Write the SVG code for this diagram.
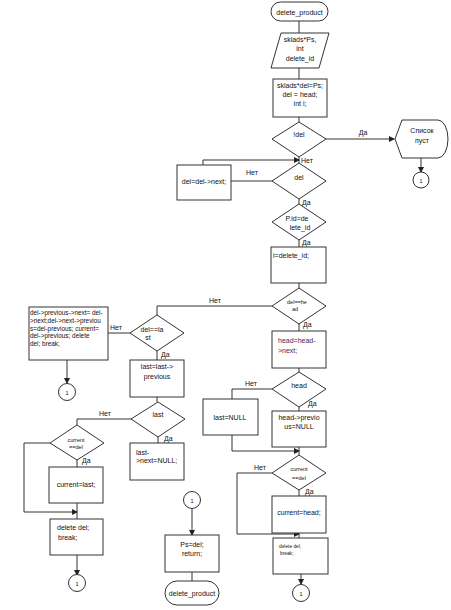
<svg xmlns="http://www.w3.org/2000/svg" width="451" height="610" viewBox="0 0 451 610">
<defs>
<marker id="arr" markerWidth="6" markerHeight="6" refX="5" refY="3" orient="auto" markerUnits="userSpaceOnUse">
<path d="M0,0 L6,3 L0,6 Z" fill="#222"/>
</marker>
<style>
.s{fill:#fff;stroke:#333;stroke-width:1}
.c{fill:none;stroke:#333;stroke-width:1}
.a{fill:none;stroke:#333;stroke-width:1;marker-end:url(#arr)}
text{font-family:"Liberation Sans",Arial,sans-serif;font-size:7px;fill:#111}
.m{text-anchor:middle}
.sm{font-size:5.5px}
.xs{font-size:4.8px}
.p{fill:#4a1c5c}
</style>
</defs>
<rect width="451" height="610" fill="#fff"/>
<g id="connectors">
<path class="c" d="M299,21V33"/>
<path class="c" d="M299,68V79"/>
<path class="c" d="M299,117V122"/>
<path class="a" d="M326,139H394"/>
<path class="a" d="M421,158V172"/>
<path class="c" d="M299,157V163"/>
<path class="a" d="M203,165V160H299"/>
<path class="c" d="M272,181H231"/>
<path class="c" d="M299,199V204"/>
<path class="c" d="M299,240V247"/>
<path class="c" d="M299,283V288"/>
<path class="c" d="M272,306H157V315"/>
<path class="c" d="M299,324V331"/>
<path class="c" d="M299,368V372"/>
<path class="c" d="M272,389H232V399"/>
<path class="c" d="M299,407V411"/>
<path class="a" d="M232,435V451H299"/>
<path class="c" d="M299,447V455"/>
<path class="a" d="M272,473H237V534H299"/>
<path class="c" d="M299,490V496"/>
<path class="c" d="M299,533V538"/>
<path class="a" d="M301,574V584"/>
<path class="c" d="M130,333H108"/>
<path class="a" d="M67,360V383"/>
<path class="c" d="M157,351V360"/>
<path class="c" d="M157,397V402"/>
<path class="c" d="M131,419H77V425"/>
<path class="c" d="M158,437V443"/>
<path class="c" d="M77,460V467"/>
<path class="a" d="M50,443H24V512H77"/>
<path class="c" d="M77,503V519"/>
<path class="a" d="M77,555V575"/>
<path class="a" d="M192,509V535"/>
<path class="c" d="M192,572V581"/>
<text x="363" y="135" class="m">Да</text>
<text x="301" y="163">Нет</text>
<text x="252" y="175" class="m">Нет</text>
<text x="302" y="205">Да</text>
<text x="302" y="245">Да</text>
<text x="215" y="303" class="m">Нет</text>
<text x="303" y="327">Да</text>
<text x="251" y="386" class="m">Нет</text>
<text x="308" y="406">Да</text>
<text x="260" y="470" class="m">Нет</text>
<text x="305" y="494">Да</text>
<text x="110" y="330">Нет</text>
<text x="161" y="357">Да</text>
<text x="105" y="416" class="m">Нет</text>
<text x="164" y="441">Да</text>
<text x="82" y="463">Да</text>
</g>
<g id="start">
<rect class="s" x="271" y="2" width="57" height="19" rx="9.5"/>
<text x="299.5" y="14.5" class="m">delete_product</text>
</g>
<g id="input">
<polygon class="s" points="281,33 329,33 319,68 271,68"/>
<text x="300" y="42" class="m">sklads*Ps,</text>
<text x="300" y="51" class="m">int</text>
<text x="300" y="61" class="m">delete_id</text>
</g>
<g id="init">
<rect class="s" x="273" y="79" width="54" height="38"/>
<text x="300" y="88" class="m">sklads*del=Ps;</text>
<text x="300" y="97" class="m">del = head;</text>
<text x="300" y="106" class="m">int i;</text>
</g>
<g id="notdel">
<polygon class="s" points="299,122 326,139 299,157 272,139"/>
<text x="299" y="137" class="m">!del</text>
</g>
<g id="empty">
<path class="s" d="M395,139 L402,120 H438 A10,19 0 0 1 438,158 H402 Z"/>
<text x="422" y="133" class="m">Список</text>
<text x="422" y="143" class="m">пуст</text>
</g>
<g id="c1a">
<circle class="s" cx="421" cy="180" r="8"/>
<text x="421" y="182.5" class="m sm">1</text>
</g>
<g id="deld">
<polygon class="s" points="299,163 326,181 299,199 272,181"/>
<text x="299" y="180" class="m">del</text>
</g>
<g id="next">
<rect class="s" x="177" y="165" width="54" height="35"/>
<text x="204" y="184" class="m">del=del-&gt;next;</text>
</g>
<g id="pid">
<polygon class="s" points="299,204 326,222 299,240 272,222"/>
<text x="297" y="221" class="m">P.id=de</text>
<text x="300" y="230" class="m">lete_id</text>
</g>
<g id="iset">
<rect class="s" x="271" y="247" width="55" height="36"/>
<text x="273" y="258">i=delete_id;</text>
</g>
<g id="delhead">
<polygon class="s" points="299,288 326,306 299,324 272,306"/>
<text x="297" y="304" class="m sm">del==he</text>
<text x="295" y="311" class="m sm">ad</text>
</g>
<g id="headnext">
<rect class="s" x="272" y="331" width="54" height="37"/>
<text x="278" y="343" class="p">head=head-</text>
<text x="278" y="353" class="p">&gt;next;</text>
</g>
<g id="headd">
<polygon class="s" points="299,372 326,389 299,407 272,389"/>
<text x="299" y="388" class="m">head</text>
</g>
<g id="lastnull">
<rect class="s" x="203" y="399" width="55" height="36"/>
<text x="230" y="420" class="m">last=NULL</text>
</g>
<g id="headprev">
<rect class="s" x="272" y="411" width="54" height="36"/>
<text x="299" y="420" class="m">head-&gt;previo</text>
<text x="299" y="429" class="m">us=NULL</text>
</g>
<g id="curdel1">
<polygon class="s" points="299,455 326,473 299,490 272,473"/>
<text x="299" y="471" class="m sm">current</text>
<text x="299" y="480" class="m sm">==del</text>
</g>
<g id="curhead">
<rect class="s" x="272" y="496" width="54" height="37"/>
<text x="299" y="515" class="m">current=head;</text>
</g>
<g id="delbreak1">
<rect class="s" x="273" y="538" width="55" height="36"/>
<text x="279" y="548" class="xs">delete del;</text>
<text x="280" y="555" class="xs">break;</text>
</g>
<g id="c1b">
<circle class="s" cx="301" cy="593" r="8.5"/>
<text x="301" y="595.5" class="m sm">1</text>
</g>
<g id="dellast">
<polygon class="s" points="157,315 184,333 157,351 130,333"/>
<text x="152" y="332" class="m">del==la</text>
<text x="148" y="340" class="m">st</text>
</g>
<g id="mid">
<rect class="s" x="29" y="307" width="79" height="53"/>
<text x="30" y="315" style="font-size:6.4px">del-&gt;previous-&gt;next= del-</text>
<text x="30" y="323" style="font-size:6.4px">&gt;next;del-&gt;next-&gt;previou</text>
<text x="30" y="330.5" style="font-size:6.4px">s=del-previous; current=</text>
<text x="30" y="338" style="font-size:6.4px">del-&gt;previous; delete</text>
<text x="30" y="345.5" style="font-size:6.4px">del; break;</text>
</g>
<g id="c1c">
<circle class="s" cx="67" cy="392" r="8.5"/>
<text x="67" y="394.5" class="m sm">1</text>
</g>
<g id="lastprev">
<rect class="s" x="130" y="360" width="54" height="37"/>
<text x="157" y="369" class="m">last=last-&gt;</text>
<text x="157" y="379" class="m">previous</text>
</g>
<g id="lastd">
<polygon class="s" points="158,402 185,419 158,437 131,419"/>
<text x="158" y="417" class="m">last</text>
</g>
<g id="lastnext">
<rect class="s" x="130" y="443" width="54" height="37"/>
<text x="136" y="455">last-</text>
<text x="136" y="463">&gt;next=NULL;</text>
</g>
<g id="curdel2">
<polygon class="s" points="77,425 104,443 77,460 50,443"/>
<text x="76" y="442" class="m sm">current</text>
<text x="76" y="449" class="m sm">==del</text>
</g>
<g id="curlast">
<rect class="s" x="49" y="467" width="54" height="36"/>
<text x="76" y="487" class="m">current=last;</text>
</g>
<g id="delbreak2">
<rect class="s" x="50" y="519" width="53" height="36"/>
<text x="57" y="530">delete del;</text>
<text x="58" y="540">break;</text>
</g>
<g id="c1d">
<circle class="s" cx="77" cy="583" r="8.5"/>
<text x="77" y="585.5" class="m sm">1</text>
</g>
<g id="c1e">
<circle class="s" cx="192" cy="500" r="8.5"/>
<text x="192" y="502.5" class="m sm">1</text>
</g>
<g id="ret">
<rect class="s" x="165" y="535" width="54" height="37"/>
<text x="192" y="547" class="m">Ps=del;</text>
<text x="192" y="556" class="m">return;</text>
</g>
<g id="end">
<rect class="s" x="165" y="581" width="54" height="24" rx="12"/>
<text x="192" y="596" class="m">delete_product</text>
</g>
</svg>
